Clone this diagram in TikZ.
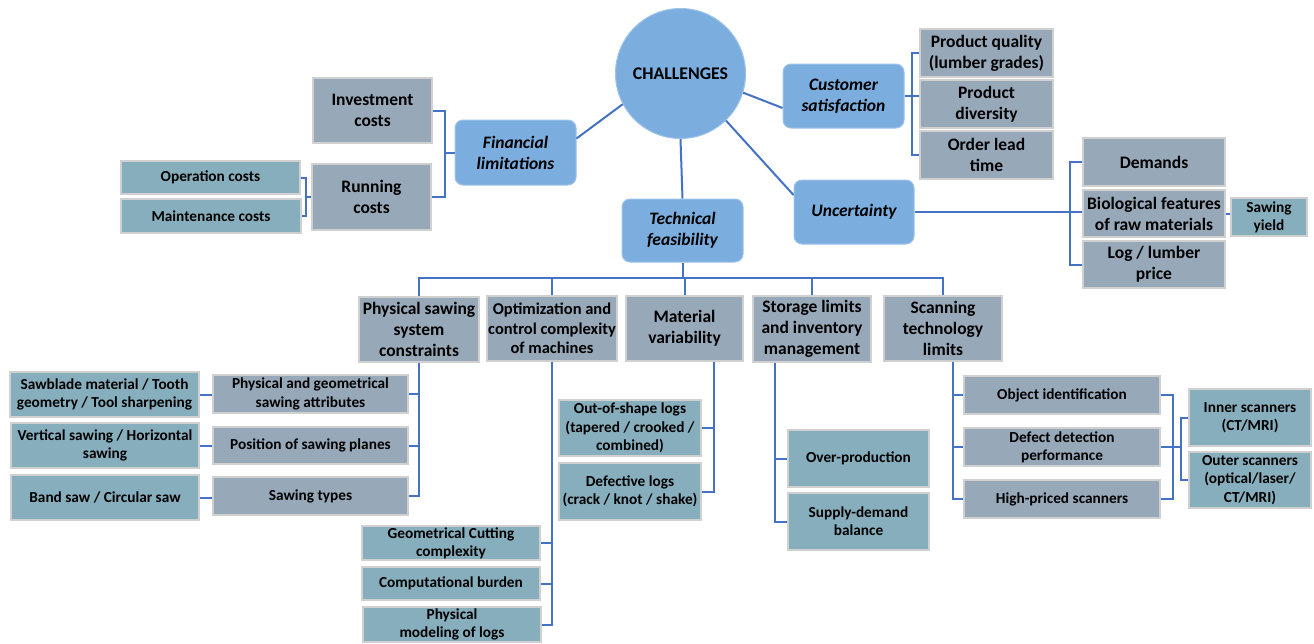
\documentclass[tikz,border=0pt]{standalone}
\usepackage{fontspec}
\setmainfont{Carlito}
\usetikzlibrary{calc}
\definecolor{bluefill}{HTML}{7BAEDF}
\definecolor{blueedge}{HTML}{9CC2EA}
\definecolor{grayfill}{HTML}{97A8B9}
\definecolor{tealfill}{HTML}{87AEBD}
\definecolor{boxedge}{HTML}{D0D0D0}
\definecolor{linecol}{HTML}{4472C4}
\begin{document}
\begin{tikzpicture}[x=1pt,y=-1pt,
 base/.style={draw=boxedge, line width=1.2pt, inner sep=0pt, align=center, anchor=center},
 graybox/.style={base, fill=grayfill},
 tealbox/.style={base, fill=tealfill},
 big/.style={font=\fontsize{17.5}{21}\selectfont\bfseries},
 mid/.style={font=\fontsize{16.5}{19.5}\selectfont\bfseries},
 small/.style={font=\fontsize{15.3}{18.3}\selectfont\bfseries},
 bluebox/.style={draw=blueedge, line width=1pt, fill=bluefill, rounded corners=8pt, align=center, inner sep=0pt, font=\fontsize{17.5}{21}\selectfont\bfseries\itshape},
 conn/.style={draw=linecol, line width=2pt},
 wh/.style n args={2}{minimum width=#1, minimum height=#2}
]
\useasboundingbox[fill=white] (0,0) rectangle (1314,643);

% central node
\node[circle, draw=blueedge, line width=1pt, fill=bluefill, minimum size=130, inner sep=0pt, font=\fontsize{17.8}{21}\selectfont\bfseries] (chal) at (680.5,73.5) {CHALLENGES};

% main categories
\node[bluebox, wh={121}{65}] (fin) at (515.5,152.5) {Financial\\limitations};
\node[bluebox, wh={121}{64}] (cust) at (843.5,96) {Customer\\satisfaction};
\node[bluebox, wh={120}{64}] (unc) at (854,212) {Uncertainty};
\node[bluebox, wh={121}{63}] (tech) at (682.5,230.5) {Technical\\feasibility};

% financial
\node[graybox, big, wh={119}{65}] (inv) at (372.5,110.5) {Investment\\costs};
\node[graybox, big, wh={119}{66}] (run) at (371.5,197) {Running\\costs};
\node[tealbox, small, wh={179}{33}] (op) at (210.5,177.5) {Operation costs};
\node[tealbox, small, wh={180}{34}] (mnt) at (211,216) {Maintenance costs};

% customer
\node[graybox, big, wh={133}{48}] (pq) at (986.5,53) {Product quality\\(lumber grades)};
\node[graybox, big, wh={133}{48}] (div) at (986.5,104) {Product\\diversity};
\node[graybox, big, wh={133}{48}] (olt) at (986.5,155) {Order lead\\time};

% uncertainty
\node[graybox, big, wh={142}{48}] (dem) at (1154,162) {Demands};
\node[graybox, big, wh={142}{47}] (bio) at (1154,213.5) {Biological features\\of raw materials};
\node[graybox, big, wh={142}{47}] (log) at (1154,264.5) {Log / lumber\\price};
\node[tealbox, small, wh={76}{38}] (yld) at (1269,217) {Sawing\\yield};

% technical children
\node[graybox, big, wh={120}{65}] (psc) at (419,329.5) {Physical sawing\\system\\constraints};
\node[graybox, mid, wh={130}{65}] (opt) at (552,328.5) {Optimization and\\control complexity\\of machines};
\node[graybox, big, wh={117}{65}] (mat) at (684.5,328.5) {Material\\variability};
\node[graybox, big, wh={118}{66}] (sto) at (812,329) {Storage limits\\and inventory\\management};
\node[graybox, big, wh={118}{65}] (scan) at (943,328.5) {Scanning\\technology\\limits};

% physical sawing
\node[graybox, small, wh={195}{38}] (pga) at (310.5,394) {Physical and geometrical\\sawing attributes};
\node[graybox, small, wh={195}{37}] (pos) at (310.5,445.5) {Position of sawing planes};
\node[graybox, small, wh={195}{38}] (st) at (310.5,496) {Sawing types};
\node[tealbox, small, wh={189}{45}] (sb) at (104.5,394.5) {Sawblade material / Tooth\\geometry / Tool sharpening};
\node[tealbox, small, wh={188}{45}] (vs) at (105,445.5) {Vertical sawing / Horizontal\\sawing};
\node[tealbox, small, wh={188}{45}] (bs) at (105,497.5) {Band saw / Circular saw};

% optimization
\node[tealbox, small, wh={178}{34}] (geo) at (451,543) {Geometrical Cutting\\complexity};
\node[tealbox, small, wh={178}{33}] (comp) at (451,583.5) {Computational burden};
\node[tealbox, small, wh={178}{35}] (phm) at (452,624.5) {Physical\\modeling of logs};

% material
\node[tealbox, small, wh={142}{56}] (oos) at (630,428) {Out-of-shape logs\\(tapered / crooked /\\combined)};
\node[tealbox, small, wh={142}{57}] (dfl) at (630,491.5) {Defective logs\\(crack / knot / shake)};

% storage
\node[tealbox, small, wh={141}{57}] (ovp) at (858.5,458.5) {Over-production};
\node[tealbox, small, wh={141}{57}] (sdb) at (858.5,521.5) {Supply-demand\\balance};

% scanning
\node[graybox, small, wh={196}{38}] (oid) at (1062,395) {Object identification};
\node[graybox, small, wh={196}{38}] (ddp) at (1062,447) {Defect detection\\performance};
\node[graybox, small, wh={196}{38}] (hps) at (1062,499) {High-priced scanners};
\node[tealbox, small, wh={122}{57}] (inr) at (1250,417.5) {Inner scanners\\(CT/MRI)};
\node[tealbox, small, wh={122}{56}] (outr) at (1250,480) {Outer scanners\\(optical/laser/\\CT/MRI)};

% ---------- connectors ----------
\draw[conn] (chal.208) -- ($(fin.east)+(0,-14)$);
\draw[conn] (chal.-17) -- ($(cust.west)+(0,12)$);
\draw[conn] (chal.-46) -- ($(unc.west)+(0,-17)$);
\draw[conn] (chal.south) -- (tech.north);

% financial
\coordinate (finB) at ($(fin.west)+(-10,0)$);
\draw[conn] (inv.east) -| (finB) |- (run.east);
\draw[conn] (finB) -- (fin.west);
\coordinate (runB) at ($(run.west)+(-5,0)$);
\draw[conn] (op.east) -| (runB) |- (mnt.east);
\draw[conn] (runB) -- (run.west);

% customer
\coordinate (custB) at ($(pq.west)+(-7,0)$);
\draw[conn] (pq.west) -- (custB) |- (olt.west);
\draw[conn] (cust.east) -- (cust.east -| div.west);

% uncertainty
\coordinate (uncB) at ($(dem.west)+(-12,0)$);
\draw[conn] (dem.west) -- (uncB) |- (log.west);
\draw[conn] (unc.east) -- (unc.east -| bio.west);
\draw[conn] (bio.east) -- (bio.east -| yld.west);

% technical bus
\coordinate (bus) at (682,278);
\draw[conn] (tech.south) -- (tech.south |- bus);
\draw[conn] (psc.north) -- (psc.north |- bus) -- (scan.north |- bus) -- (scan.north);
\draw[conn] (opt.north) -- (opt.north |- bus);
\draw[conn] (mat.north) -- (mat.north |- bus);
\draw[conn] (sto.north) -- (sto.north |- bus);

% physical sawing
\draw[conn] (psc.south) |- (pga.east);
\draw[conn] (psc.south) |- (pos.east);
\draw[conn] (psc.south) |- (st.east);
\draw[conn] (sb.east) -- (sb.east -| pga.west);
\draw[conn] (vs.east) -- (vs.east -| pos.west);
\draw[conn] (bs.east) -- (bs.east -| st.west);

% optimization
\draw[conn] (opt.south) |- (geo.east);
\draw[conn] (opt.south) |- (comp.east);
\draw[conn] (opt.south) |- (phm.east);

% material
\coordinate (matV) at ($(mat.south)+(29.5,0)$);
\draw[conn] (matV) |- (oos.east);
\draw[conn] (matV) |- (dfl.east);

% storage
\coordinate (stoV) at ($(sto.south)+(-37,0)$);
\draw[conn] (stoV) |- (ovp.west);
\draw[conn] (stoV) |- (sdb.west);

% scanning
\coordinate (scV) at ($(scan.south)+(10,0)$);
\draw[conn] (scV) |- (oid.west);
\draw[conn] (scV) |- (ddp.west);
\draw[conn] (scV) |- (hps.west);
\coordinate (sB1) at ($(oid.east)+(12,0)$);
\draw[conn] (oid.east) -- (sB1) |- (hps.east);
\coordinate (sB2) at ($(inr.west)+(-7,0)$);
\draw[conn] (inr.west) -- (sB2) |- (outr.west);
\draw[conn] (ddp.east) -- (ddp.east -| sB2);
\end{tikzpicture}
\end{document}
